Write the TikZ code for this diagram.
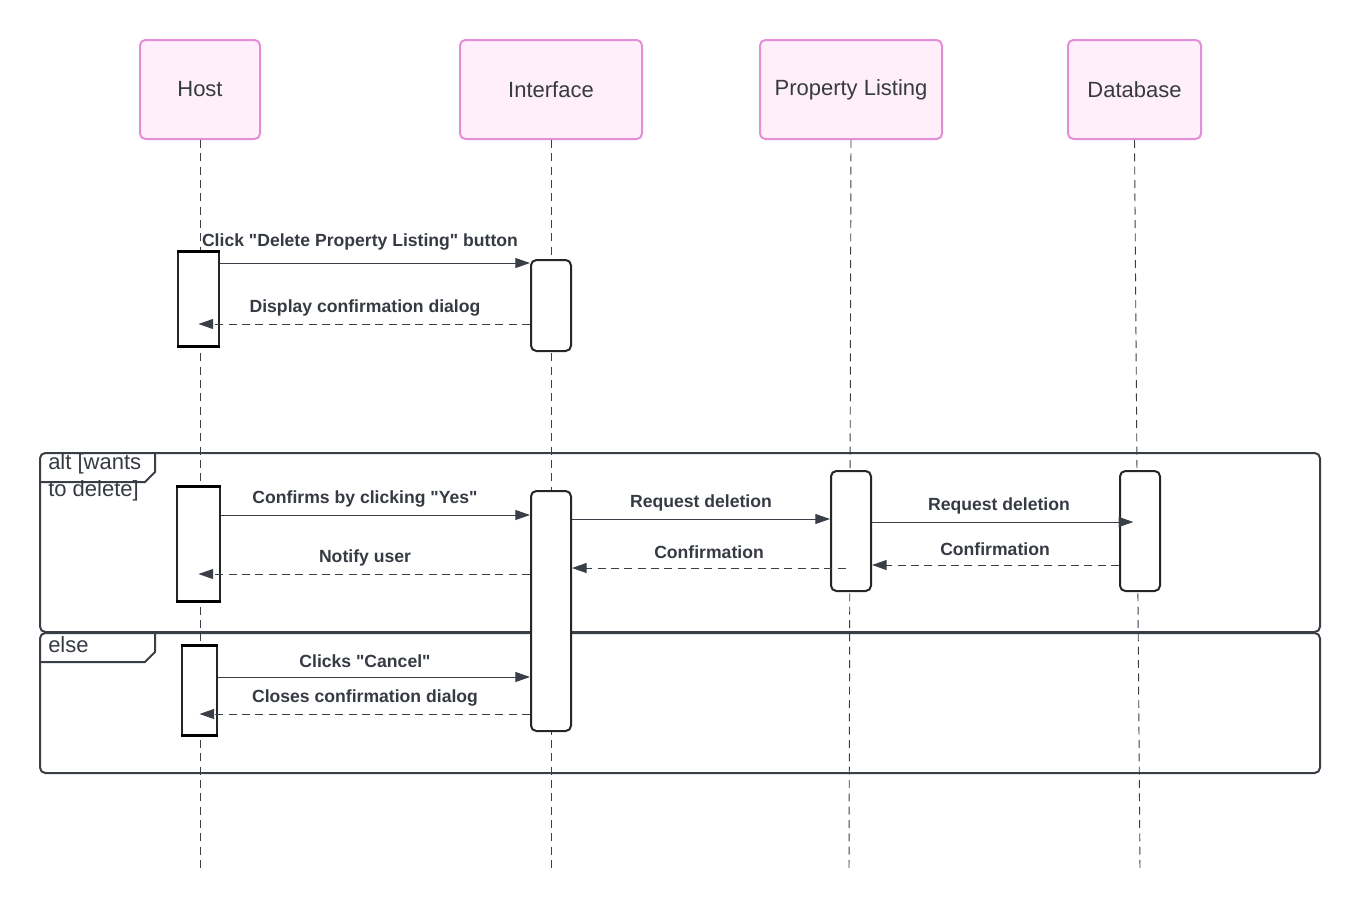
\documentclass[tikz,border=0pt]{standalone}
\usepackage{fontspec}
\setmainfont{Liberation Sans}[Ligatures=TeXOff]
\usetikzlibrary{arrows.meta}
\definecolor{headfill}{HTML}{FFEFFB}
\definecolor{headline}{HTML}{E38ED6}
\definecolor{txtcol}{HTML}{363A42}
\definecolor{linecol}{HTML}{3A3E46}
\def\pxl{0.75pt}
\tikzstyle{head}=[draw=headline,fill=headfill,line width=1.5pt,rounded corners=4pt,text=txtcol,font=\fontsize{16.5}{19}\selectfont,minimum height=99*\pxl]
\tikzstyle{life}=[linecol,line width=0.7pt,dash pattern=on 6pt off 4pt]
\tikzstyle{act}=[draw=black!85,fill=white,line width=1.5pt,rounded corners=4pt,minimum width=40*\pxl,inner sep=0pt]
\tikzstyle{hostact}=[draw=black!85,fill=white,line width=0.9pt,inner sep=0pt]
\tikzstyle{msg}=[linecol,line width=0.75pt,-{Triangle[length=11pt,width=7.5pt]}]
\tikzstyle{reply}=[msg,dash pattern=on 6pt off 4pt]
\tikzstyle{lbl}=[text=txtcol,font=\bfseries\fontsize{13.2}{15}\selectfont]
\tikzstyle{frame}=[draw=linecol,line width=1.5pt,rounded corners=4pt]
\tikzstyle{ftext}=[text=txtcol,anchor=west,inner sep=0pt,font=\fontsize{16.5}{19}\selectfont]

\begin{document}
\begin{tikzpicture}[x=0.75pt,y=-0.75pt]
  \useasboundingbox (0,0) rectangle (1360,911);

  % participants
  \node[head,minimum width=120*\pxl] (host) at (200,89.5) {Host};
  \node[head,minimum width=182*\pxl] (iface) at (551,89.5) {Interface};
  \node[head,minimum width=182*\pxl] (plist) at (851,89.5) {Property Listing};
  \node[head,minimum width=133*\pxl] (db) at (1134.5,89.5) {Database};

  % lifelines
  \foreach \n/\x in {host/200, iface/551, plist/849, db/1140}
    \coordinate (\n end) at (\x,870);
  \foreach \n in {host, iface, plist, db}
    \draw[life] (\n.south) -- (\n end);

  % alt / else frames
  \draw[frame] (40,453) rectangle (1320,632);
  \draw[linecol,line width=1.5pt] (40,482) -- (145,482) -- (155,472) -- (155,453);
  \node[ftext] (altl) at (48,464) {alt [wants};
  \node[ftext] (altc) at (48,491) {to delete]};
  \draw[frame] (40,633) rectangle (1320,773);
  \draw[linecol,line width=1.5pt] (40,662) -- (145,662) -- (155,652) -- (155,633);
  \node[ftext] (elsel) at (48,645) {else};

  % activations
  \node[hostact,minimum width=41*\pxl,minimum height=94*\pxl] (h1) at (198.5,299) {};
  \node[hostact,minimum width=43*\pxl,minimum height=114*\pxl] (h2) at (198.5,544) {};
  \node[hostact,minimum width=35*\pxl,minimum height=89*\pxl] (h3) at (199.5,690.5) {};
  \foreach \h in {h1,h2,h3} {
    \draw[line width=2.6pt] (\h.north west) -- (\h.north east);
    \draw[line width=2.6pt] (\h.south west) -- (\h.south east);
  }
  \node[act,minimum height=91*\pxl] (i1) at (551,305.5) {};
  \node[act,minimum height=240*\pxl] (i2) at (551,611) {};
  \node[act,minimum height=120*\pxl] (p1) at (851,531) {};
  \node[act,minimum height=120*\pxl] (d1) at (1140,531) {};

  % message levels
  \foreach \n/\y in {m1/263, m2/324, m3/515, m4/574, m5/519, m6/568, m7/522, m8/565, m9/677, m10/714}
    \coordinate (\n) at (0,\y);

  % messages
  \draw[msg] (h1.east |- m1) -- (i1.west |- m1);
  \draw[reply] (i1.west |- m2) -- (h1.center |- m2);
  \draw[msg] (h2.east |- m3) -- (i2.west |- m3);
  \draw[reply] (i2.west |- m4) -- (h2.center |- m4);
  \draw[msg] (i2.east |- m5) -- (p1.west |- m5);
  \draw[reply,shorten <=4pt] (p1.center |- m6) -- (i2.east |- m6);
  \draw[msg,shorten >=5pt] (p1.east |- m7) -- (d1.center |- m7);
  \draw[reply] (d1.west |- m8) -- (p1.east |- m8);
  \draw[msg] (h3.east |- m9) -- (i2.west |- m9);
  \draw[reply] (i2.west |- m10) -- (h3.center |- m10);

  % labels
  \node[lbl] (l1) at (360,242) {Click "Delete Property Listing" button};
  \node[lbl] (l2) at (365,308) {Display confirmation dialog};
  \node[lbl] (l3) at (365,499) {Confirms by clicking "Yes"};
  \node[lbl] (l4) at (365,558) {Notify user};
  \node[lbl] (l5) at (701,503) {Request deletion};
  \node[lbl] (l6) at (709,552) {Confirmation};
  \node[lbl] (l7) at (999,506) {Request deletion};
  \node[lbl] (l8) at (995,549) {Confirmation};
  \node[lbl] (l9) at (365,661) {Clicks "Cancel"};
  \node[lbl] (l10) at (365,698) {Closes confirmation dialog};
\end{tikzpicture}
\end{document}
